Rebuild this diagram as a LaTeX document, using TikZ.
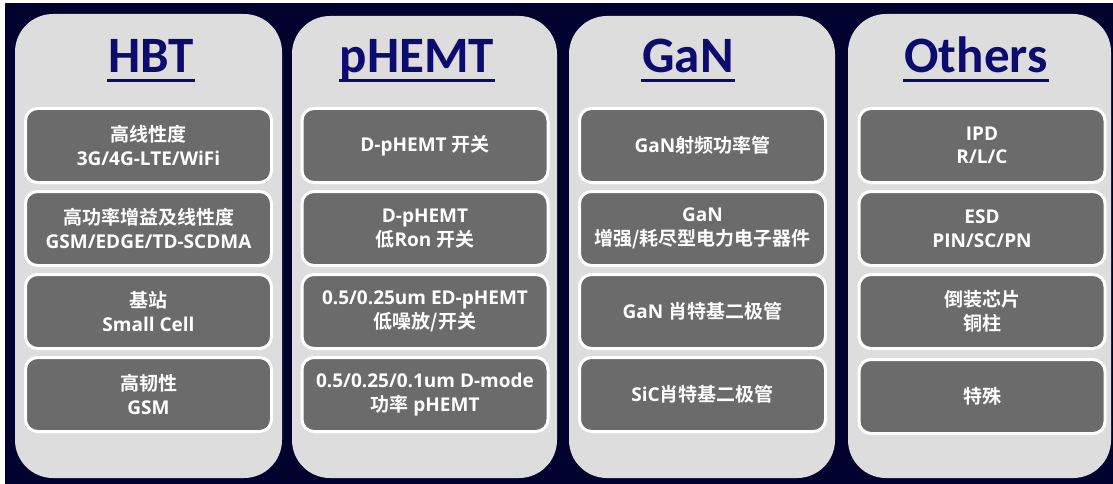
\documentclass[tikz,border=0pt]{standalone}
\usepackage{fontspec}
\setmainfont{Carlito}
\newfontfamily\latf{Open Sans}
\newfontfamily\zhf{Noto Sans CJK SC}[BoldFont={Noto Sans CJK SC Bold}]
\newcommand{\zh}[1]{{\zhf\bfseries #1}}
\usetikzlibrary{calc}
\definecolor{bgnavy}{RGB}{2,2,46}
\definecolor{panelgray}{RGB}{221,221,221}
\definecolor{boxgray}{RGB}{107,107,107}
\definecolor{titleblue}{RGB}{12,12,110}
\tikzset{
  panel/.style={fill=panelgray, rounded corners=38pt},
  title/.style={anchor=base, inner sep=0pt, text=titleblue, font={\fontsize{51}{51}\selectfont\bfseries}},
  uline/.style={draw=titleblue, line width=3pt},
  box/.style={draw=white, line width=3pt, fill=boxgray, rounded corners=12pt,
    minimum width=246pt, minimum height=74pt, inner sep=0pt, align=center,
    text=white, font={\fontsize{19}{23.5}\selectfont\latf\bfseries}}
}
\begin{document}
\begin{tikzpicture}[x=1pt,y=-1pt]
\useasboundingbox (0,0) rectangle (1113,484);
\fill[white] (0,0) rectangle (1113,484);
\fill[bgnavy] (5,3) rectangle (1113,484);
% panels
\path[panel] (15,14) rectangle (282,478);
\path[panel] (292,16) rectangle (557,478);
\path[panel] (569,16) rectangle (835,478);
\path[panel] (848,14) rectangle (1111,478);
% titles
\node[title] (t1) at (151,73) {HBT};
\node[title] (t2) at (417,73) {pHEMT};
\node[title] (t3) at (688,73) {GaN};
\node[title] (t4) at (976,73) {Others};
\foreach \t in {t1,t2,t3,t4}{
  \draw[uline] ($(\t.base west)+(-1,8)$) -- ($(\t.base east)+(1,8)$);
}
% HBT
\node[box] (a1) at (148.5,145.5) {\zh{高线性度}\\3G/4G-LTE/WiFi};
\node[box] (a2) at (148.5,228.5) {\zh{高功率增益及线性度}\\GSM/EDGE/TD-SCDMA};
\node[box] (a3) at (148.5,311.5) {\zh{基站}\\Small Cell};
\node[box] (a4) at (148.5,394.5) {\zh{高韧性}\\GSM};
% pHEMT
\node[box] (b1) at (425,145.5) {D-pHEMT \zh{开关}};
\node[box] (b2) at (425,228.5) {D-pHEMT\\\zh{低}Ron \zh{开关}};
\node[box] (b3) at (425,311.5) {0.5/0.25um ED-pHEMT\\\zh{低噪放/开关}};
\node[box] (b4) at (425,394.5) {0.5/0.25/0.1um D-mode\\\zh{功率} pHEMT};
% GaN
\node[box] (c1) at (702.5,145.5) {GaN\zh{射频功率管}};
\node[box] (c2) at (702.5,228.5) {GaN\\\zh{增强/耗尽型电力电子器件}};
\node[box] (c3) at (702.5,311.5) {GaN \zh{肖特基二极管}};
\node[box] (c4) at (702.5,394.5) {SiC\zh{肖特基二极管}};
% Others
\node[box] (d1) at (982,145.5) {IPD\\R/L/C};
\node[box] (d2) at (982,228.5) {ESD\\PIN/SC/PN};
\node[box] (d3) at (982,311.5) {\zh{倒装芯片}\\\zh{铜柱}};
\node[box] (d4) at (982,396.5) {\zh{特殊}};
\end{tikzpicture}
\end{document}
